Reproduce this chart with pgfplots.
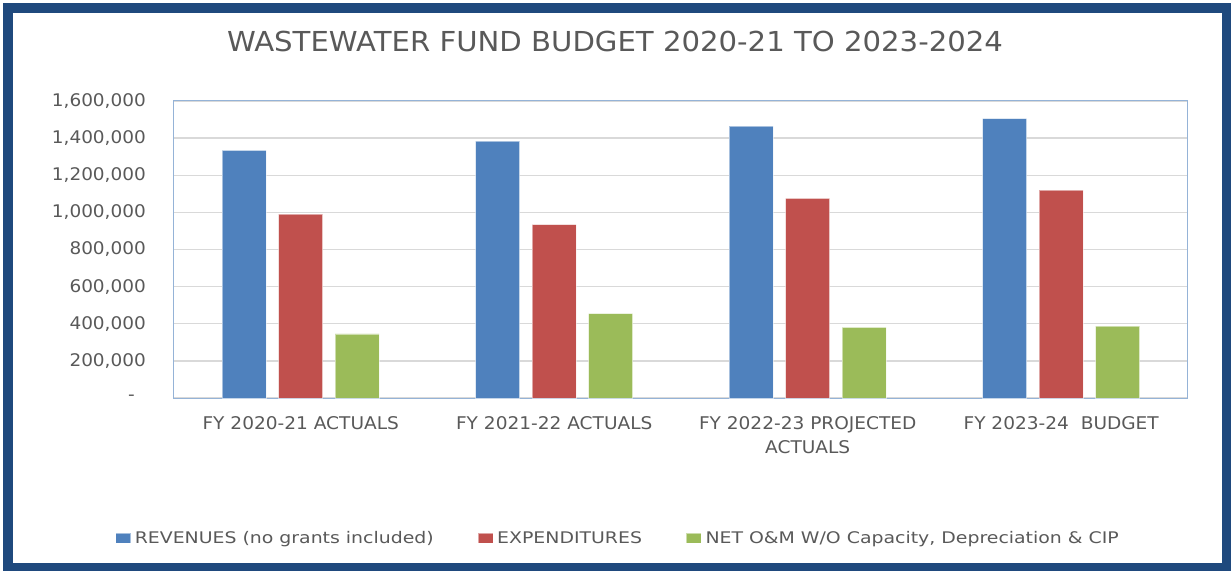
\documentclass[border=0pt]{standalone}
\usepackage{fontspec}
\setmainfont{DejaVu Sans}[FakeStretch=1.06]
\newfontfamily\legfont{DejaVu Sans}[FakeStretch=1.18]
\usepackage{pgfplots}
\pgfplotsset{compat=1.18}

\definecolor{revblue}{HTML}{4F81BD}
\definecolor{expred}{HTML}{C0504D}
\definecolor{netgreen}{HTML}{9BBB59}
\definecolor{frameblue}{HTML}{1F497D}
\definecolor{txtgray}{HTML}{595959}
\definecolor{gridgray}{HTML}{D9D9D9}
\definecolor{boxblue}{HTML}{95B3D7}

\begin{document}
\begin{tikzpicture}
  % page = 1231 x 571 px, axis south west at pixel (174,398)
  \useasboundingbox (-174bp,398bp) rectangle (1057bp,-173bp);
  \draw[frameblue, line width=9.4bp] (-166bp,390bp) rectangle (1053bp,-170bp);

  \begin{axis}[
      at={(0,0)}, anchor=south west,
      scale only axis, width=1014bp, height=297bp,
      ybar=12.5bp, bar width=44bp,
      xmin=-0.5, xmax=3.5, ymin=0, ymax=1600000,
      xtick={0,1,2,3},
      xticklabels={FY 2020-21 ACTUALS, FY 2021-22 ACTUALS, {FY 2022-23 PROJECTED\\ACTUALS}, FY 2023-24\ \ BUDGET},
      ytick={0,200000,400000,600000,800000,1000000,1200000,1400000,1600000},
      yticklabels={{-\hspace*{11bp}},{200,000},{400,000},{600,000},{800,000},{1,000,000},{1,200,000},{1,400,000},{1,600,000}},
      scaled y ticks=false,
      major tick length=0pt,
      ymajorgrids, grid style={gridgray, line width=1.3bp},
      axis line style={boxblue, line width=1bp},
      yticklabel style={font=\fontsize{17.4bp}{20bp}\selectfont, text=txtgray, anchor=east, inner sep=0pt, xshift=-28bp},
      xticklabel style={font=\fontsize{17.5bp}{24bp}\selectfont, text=txtgray, align=center, anchor=north, inner sep=0pt, yshift=-18.7bp},
      legend columns=3,
      legend image code/.code={\fill[#1] (0bp,-5bp) rectangle (15bp,5bp);},
      legend style={draw=none, fill=none, at={(0.4369,-0.4714)}, anchor=center,
        font=\legfont\fontsize{16bp}{19bp}\selectfont, text=txtgray,
        nodes={inner sep=0pt},
        /tikz/every odd column/.append style={column sep=4bp},
        /tikz/every even column/.append style={column sep=44bp}},
      legend cell align=left,
    ]
    \addplot[fill=revblue, draw=white, draw opacity=0.5, line width=0.5bp] coordinates {
      (0,1334000) (1,1384000) (2,1464000) (3,1505000)};
    \addplot[fill=expred, draw=white, draw opacity=0.5, line width=0.5bp] coordinates {
      (0,991000) (1,934000) (2,1076000) (3,1120000)};
    \addplot[fill=netgreen, draw=white, draw opacity=0.5, line width=0.5bp] coordinates {
      (0,346000) (1,454000) (2,380000) (3,387000)};
    \legend{REVENUES (no grants included), EXPENDITURES, {NET O\&M W/O Capacity, Depreciation \& CIP}}
  \end{axis}

  \node[anchor=base, text=txtgray, font=\fontsize{27.5bp}{30bp}\selectfont, inner sep=0pt]
    at (441bp,346.3bp) {WASTEWATER FUND BUDGET 2020-21 TO 2023-2024};
\end{tikzpicture}
\end{document}
